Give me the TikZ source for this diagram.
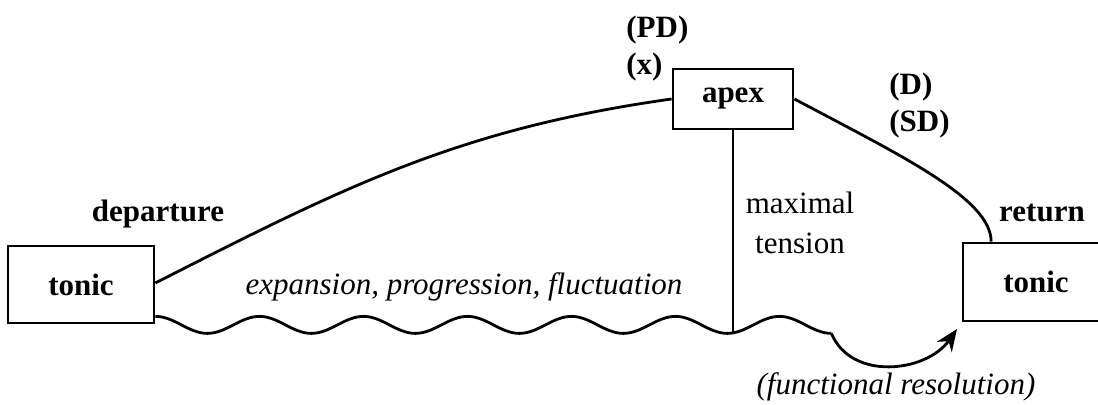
\documentclass[tikz,border=0pt]{standalone}
\usepackage{fontspec}
\setmainfont{Liberation Serif}
\usepackage{tikz}
\usetikzlibrary{positioning, arrows.meta}

\begin{document}
\begin{tikzpicture}[x=0.5pt, y=0.5pt, line width=1.4pt,
    box/.style={draw, inner sep=0pt, font=\fontsize{15.5}{18}\selectfont\bfseries},
    lab/.style={inner sep=0pt, font=\fontsize{15.5}{18}\selectfont\bfseries},
    plain/.style={inner sep=0pt, font=\fontsize{15.5}{20}\selectfont},
    slant/.style={inner sep=0pt, font=\fontsize{15.5}{18}\selectfont\itshape}]
    \useasboundingbox (0,0) rectangle (1098,405);

    % Kaesten
    \node[box, minimum width=73pt, minimum height=38.5pt] (tonicL) at (81,120.5) {tonic};
    \node[box, minimum width=60pt, minimum height=30pt] (apex) at (733,306) {apex};
    \node[box, minimum width=73pt, minimum height=39pt] (tonicR) at (1036,123) {tonic};

    % Beschriftungen
    \node[lab, anchor=base] (dep) at (158,183) {departure};
    \node[lab, anchor=base] (ret) at (1042,183) {return};
    \node[lab, anchor=west, align=left, font=\fontsize{15.5}{18.5}\selectfont\bfseries] (pdx) at (625,356.7) {(PD)\\(x)};
    \node[lab, anchor=west, align=left, font=\fontsize{15.5}{18.5}\selectfont\bfseries] (dsd) at (888,299.7) {(D)\\(SD)};
    \node[plain, align=center] (maxt) at (800,182.5) {maximal\\tension};
    \node[slant, anchor=base] (exp) at (464,110) {expansion, progression, fluctuation};
    \node[slant, anchor=base] (res) at (896,10) {(functional resolution)};

    % Bogen
    \draw (tonicL.east |- 0,122) to[out=27, in=188] (apex.west);
    \draw (apex.east) .. controls +(-28:121) and +(90:43) .. (tonicR.138);

    % Wellenlinie
    \draw (tonicL.south east) ++(0,8)
        \foreach \i in {1,...,6} {
            cos ++(26,-8.5) sin ++(26,-8.5) cos ++(26,8.5) sin ++(26,8.5)
        }
        cos ++(26,-8.5) sin ++(26,-8.5) coordinate (wend);
    \draw (apex.south) -- (apex.south |- wend);
    \draw[-{Stealth[length=11pt, width=9pt]}, shorten >=4pt] (wend)
        .. controls +(20,-48) and +(-35,-50) .. (tonicR.south west);
\end{tikzpicture}
\end{document}
